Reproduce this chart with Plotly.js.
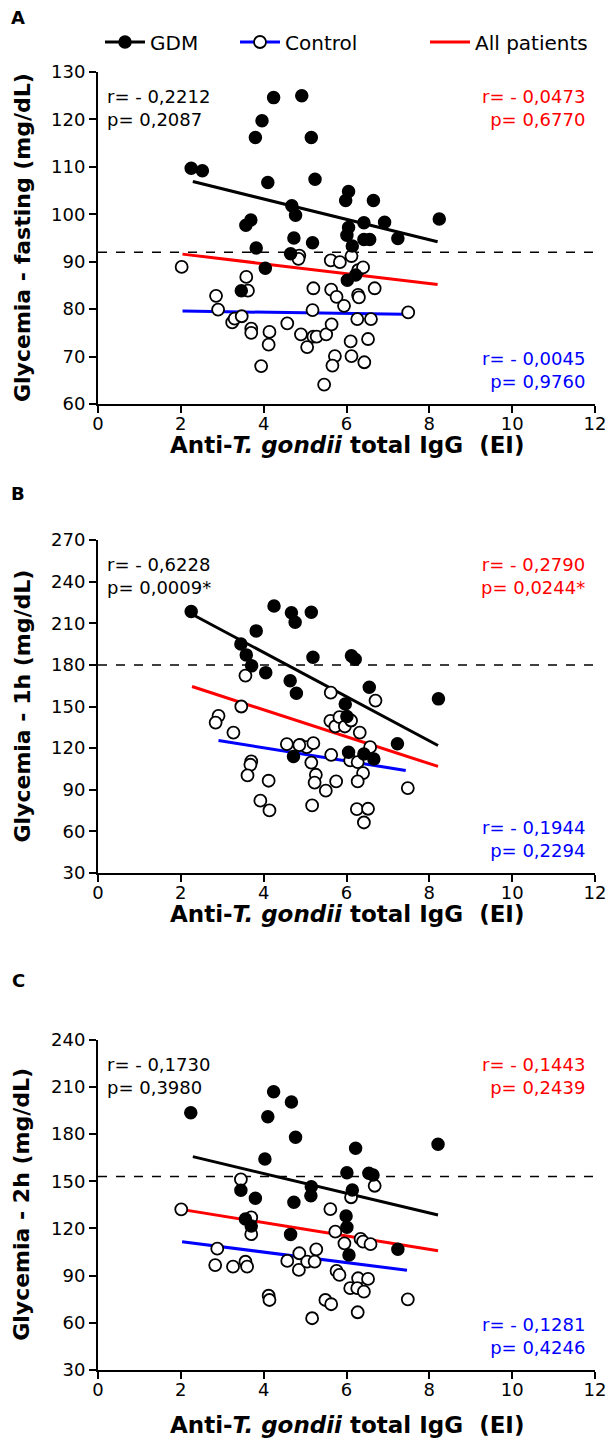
<!DOCTYPE html>
<html>
<head>
<meta charset="utf-8">
<script src="https://cdn.plot.ly/plotly-3.0.1.min.js"></script>
<style>
html,body{margin:0;padding:0;background:#fff;}
#chart{width:611px;height:1441px;}
</style>
</head>
<body>
<div id="chart"></div>
<script>
// ---------------- DATA ----------------
const panelLetters = ["A", "B", "C"];
const yTitles = ["Glycemia - fasting (mg/dL)", "Glycemia - 1h (mg/dL)", "Glycemia - 2h (mg/dL)"];
const xTitle = "Anti-<i>T. gondii</i> total IgG&nbsp; (EI)";
const legendNames = ["GDM", "Control", "All patients"];
const xTicks = [0, 2, 4, 6, 8, 10, 12];
const yTicksA = [60, 70, 80, 90, 100, 110, 120, 130];
const yTicksB = [30, 60, 90, 120, 150, 180, 210, 240, 270];
const yTicksC = [30, 60, 90, 120, 150, 180, 210, 240];
const thresholds = [92, 180, 153];

// Panel A – fasting
const A_gdm_x = [2.25,2.52,4.24,4.92,3.96,3.80,5.15,4.10,5.24,4.68,4.77,3.69,3.57,4.73,5.18,3.82,4.65,6.05,5.98,6.65,8.24,6.42,6.92,6.05,6.01,6.42,6.56,7.24,6.14,6.02,6.22,4.04,3.46];
const A_gdm_y = [109.7,109.2,124.6,125.0,119.7,116.2,116.2,106.7,107.4,101.8,99.8,98.8,97.7,95.0,94.0,92.9,91.7,104.8,102.9,102.9,99.0,98.2,98.3,97.2,95.6,94.7,94.7,94.9,93.3,86.1,87.2,88.6,83.9];
const A_ctl_x = [2.02,2.85,2.90,3.58,3.62,3.24,3.30,3.47,3.70,3.70,4.14,4.12,3.94,4.57,4.86,4.84,4.90,5.05,5.20,5.18,5.20,5.28,5.51,5.46,5.62,5.84,5.63,5.76,5.94,5.64,5.72,5.66,6.12,6.28,6.40,6.28,6.30,6.68,6.26,6.59,7.49,6.10,6.52,6.12,6.43];
const A_ctl_y = [88.9,82.8,79.9,86.8,83.9,77.2,78.0,78.5,75.9,75.0,75.2,72.5,68.0,77.0,91.3,90.6,74.7,72.0,84.4,79.8,74.2,74.2,74.7,64.1,90.3,89.9,84.1,82.6,80.7,76.8,70.1,68.1,91.2,88.2,88.8,83.0,82.5,84.4,77.9,77.9,79.3,73.2,73.7,70.1,68.8];
const A_fit_gdm_x = [2.29, 8.20], A_fit_gdm_y = [106.9, 94.2];
const A_fit_ctl_x = [2.04, 7.39], A_fit_ctl_y = [79.6, 78.9];
const A_fit_all_x = [2.04, 8.20], A_fit_all_y = [91.6, 85.2];

// Panel B – 1h
const B_gdm_x = [2.25,4.25,4.67,4.76,5.15,3.82,3.45,3.58,3.71,4.05,5.19,4.64,4.79,5.97,6.12,6.21,6.55,8.22,6.01,7.23,6.05,6.42,6.66,4.72];
const B_gdm_y = [218.4,222.5,217.6,210.7,217.9,204.5,195.1,187.2,179.3,174.4,185.5,168.5,159.6,151.8,186.5,184.1,163.9,155.5,142.8,123.1,117.1,115.7,112.1,114.0];
const B_ctl_x = [3.56,3.46,2.91,2.84,3.27,5.62,6.70,5.61,5.73,5.83,5.96,6.11,6.32,6.57,4.88,5.04,5.20,5.63,6.09,6.27,5.15,5.26,5.23,6.40,6.27,5.75,5.50,7.48,5.17,6.25,6.52,6.42,4.56,4.86,3.70,3.68,3.61,4.12,3.92,4.14];
const B_ctl_y = [172.3,150.0,143.3,138.4,131.2,160.0,154.3,139.7,135.6,142.3,135.6,139.9,131.2,120.7,122.4,120.7,123.6,115.2,111.1,109.9,109.6,100.8,95.2,102.0,96.0,96.0,89.3,91.2,78.7,76.1,76.3,66.4,122.9,122.2,110.4,108.0,100.3,96.5,82.1,75.1];
const B_fit_gdm_x = [2.27, 8.21], B_fit_gdm_y = [216.5, 121.9];
const B_fit_ctl_x = [2.91, 7.43], B_fit_ctl_y = [125.5, 103.9];
const B_fit_all_x = [2.27, 8.21], B_fit_all_y = [164.4, 106.8];

// Panel C – 2h
const C_gdm_x = [2.24,4.24,4.67,4.10,4.77,4.03,3.45,3.80,4.73,5.15,5.14,6.01,5.99,6.22,8.21,6.54,6.64,6.14,3.56,3.70,4.65,6.01,6.06,7.24];
const C_gdm_y = [193.5,206.9,200.3,191.0,177.9,164.1,144.2,139.1,136.6,146.5,140.8,155.4,127.9,170.9,173.5,155.0,153.9,144.4,126.0,121.5,116.2,120.7,103.1,106.7];
const C_ctl_x = [2.01,3.45,5.61,3.70,3.70,2.88,2.83,3.26,3.56,3.60,4.12,4.14,4.57,4.86,4.85,5.05,5.27,5.23,5.17,5.49,5.63,5.73,5.95,5.76,5.83,6.09,6.68,6.11,6.34,6.40,6.58,6.28,6.52,6.26,6.42,6.27,7.48];
const C_ctl_y = [132.1,151.2,132.3,127.0,116.3,107.1,96.7,95.7,98.8,95.7,77.2,74.5,99.3,104.2,93.6,98.9,106.7,98.9,62.9,74.5,71.8,117.9,110.5,93.0,90.4,82.0,147.1,139.8,113.3,111.6,110.0,88.3,87.9,82.0,79.8,66.7,74.9];
const C_fit_gdm_x = [2.29, 8.21], C_fit_gdm_y = [165.6, 128.5];
const C_fit_ctl_x = [2.03, 7.46], C_fit_ctl_y = [111.5, 93.4];
const C_fit_all_x = [2.01, 8.21], C_fit_all_y = [132.1, 105.8];

// correlation statistics
const gdmStats = [["r= - 0,2212", "p= 0,2087"], ["r= - 0,6228", "p= 0,0009*"], ["r= - 0,1730", "p= 0,3980"]];
const allStats = [["r= - 0,0473", "p= 0,6770"], ["r= - 0,2790", "p= 0,0244*"], ["r= - 0,1443", "p= 0,2439"]];
const ctlStats = [["r= - 0,0045", "p= 0,9760"], ["r= - 0,1944", "p= 0,2294"], ["r= - 0,1281", "p= 0,4246"]];

// ---------------- STYLE / LAYOUT ----------------
const W = 611, H = 1441, L = 98, R = 16;
const PW = W - L - R;
const FONT = "DejaVu Sans, Liberation Sans, Arial, sans-serif";
const BLACK = "#000000", RED = "#ff0000", BLUE = "#0000ff";
// pixel top/bottom of each plot area
const panelPx = [[72, 404], [540, 873], [1039.6, 1370]];
const xTitlePx = [445, 914, 1425];
const letterPx = [18, 493, 980];

const panels = [
  {gx: A_gdm_x, gy: A_gdm_y, cx: A_ctl_x, cy: A_ctl_y,
   fg: [A_fit_gdm_x, A_fit_gdm_y], fc: [A_fit_ctl_x, A_fit_ctl_y], fa: [A_fit_all_x, A_fit_all_y],
   yr: [60, 130], yt: yTicksA},
  {gx: B_gdm_x, gy: B_gdm_y, cx: B_ctl_x, cy: B_ctl_y,
   fg: [B_fit_gdm_x, B_fit_gdm_y], fc: [B_fit_ctl_x, B_fit_ctl_y], fa: [B_fit_all_x, B_fit_all_y],
   yr: [30, 270], yt: yTicksB},
  {gx: C_gdm_x, gy: C_gdm_y, cx: C_ctl_x, cy: C_ctl_y,
   fg: [C_fit_gdm_x, C_fit_gdm_y], fc: [C_fit_ctl_x, C_fit_ctl_y], fa: [C_fit_all_x, C_fit_all_y],
   yr: [30, 240], yt: yTicksC}
];

const traces = [];
const layout = {
  width: W, height: H,
  margin: {l: L, r: R, t: 0, b: 0, pad: 0},
  paper_bgcolor: "#fff", plot_bgcolor: "rgba(0,0,0,0)",
  font: {family: FONT, color: BLACK, size: 18},
  showlegend: true,
  annotations: [], shapes: []
};

const markerGdm = {symbol: "circle", size: 12, color: BLACK, line: {color: BLACK, width: 1.5}};
const markerCtl = {symbol: "circle", size: 12, color: "#ffffff", line: {color: BLACK, width: 1.8}};

panels.forEach((p, i) => {
  const n = i === 0 ? "" : String(i + 1);
  const xa = "x" + n, ya = "y" + n;
  const [top, bot] = panelPx[i];
  layout["xaxis" + n] = {
    domain: [0, 1], anchor: ya, range: [0, 12], tickvals: xTicks, ticktext: xTicks.map(String),
    showline: true, linecolor: BLACK, linewidth: 2, ticks: "outside", ticklen: 7, tickwidth: 2, tickcolor: BLACK,
    ticklabelstandoff: -5,
    showgrid: false, zeroline: false, tickfont: {family: FONT, size: 18, color: BLACK}, fixedrange: true
  };
  layout["yaxis" + n] = {
    domain: [1 - bot / H, 1 - top / H], anchor: xa, range: p.yr, tickvals: p.yt, ticktext: p.yt.map(String),
    showline: true, linecolor: BLACK, linewidth: 2, ticks: "outside", ticklen: 7, tickwidth: 2, tickcolor: BLACK,
    showgrid: false, zeroline: false, tickfont: {family: FONT, size: 18, color: BLACK}, fixedrange: true
  };
  // regression lines
  traces.push({type: "scatter", mode: "lines", x: p.fa[0], y: p.fa[1], xaxis: xa, yaxis: ya,
    line: {color: RED, width: 3}, showlegend: false, hoverinfo: "skip"});
  traces.push({type: "scatter", mode: "lines", x: p.fc[0], y: p.fc[1], xaxis: xa, yaxis: ya,
    line: {color: BLUE, width: 3}, showlegend: false, hoverinfo: "skip"});
  traces.push({type: "scatter", mode: "lines", x: p.fg[0], y: p.fg[1], xaxis: xa, yaxis: ya,
    line: {color: BLACK, width: 3}, showlegend: false, hoverinfo: "skip"});
  // points
  traces.push({type: "scatter", mode: "markers", x: p.cx, y: p.cy, xaxis: xa, yaxis: ya,
    marker: markerCtl, showlegend: false, cliponaxis: false});
  traces.push({type: "scatter", mode: "markers", x: p.gx, y: p.gy, xaxis: xa, yaxis: ya,
    marker: markerGdm, showlegend: false, cliponaxis: false});
  // threshold dashed line
  layout.shapes.push({type: "line", xref: xa, yref: ya, x0: 0, x1: 12, y0: thresholds[i], y1: thresholds[i],
    line: {color: BLACK, width: 1.5, dash: "dash"}, layer: "below"});
  const xd = xa + " domain", yd = ya + " domain";
  const h = bot - top;
  // statistics
  layout.annotations.push({xref: xd, yref: yd, x: 0.014, y: 1 - 12 / h, xanchor: "left", yanchor: "top",
    align: "left", showarrow: false, text: gdmStats[i].join("<br>"), font: {family: FONT, size: 18, color: BLACK}});
  layout.annotations.push({xref: xd, yref: yd, x: 0.984, y: 1 - 12 / h, xanchor: "right", yanchor: "top",
    align: "right", showarrow: false, text: allStats[i].join("<br>"), font: {family: FONT, size: 18, color: RED}});
  layout.annotations.push({xref: xd, yref: yd, x: 0.984, y: 10 / h, xanchor: "right", yanchor: "bottom",
    align: "right", showarrow: false, text: ctlStats[i].join("<br>"), font: {family: FONT, size: 18, color: BLUE}});
  // axis titles
  layout.annotations.push({xref: "paper", yref: yd, x: (22 - L) / PW, y: 0.5, xanchor: "center", yanchor: "middle",
    textangle: -90, showarrow: false, text: "<b>" + yTitles[i] + "</b>", font: {family: FONT, size: 22, color: BLACK}});
  layout.annotations.push({xref: xd, yref: "paper", x: 0.5, y: 1 - xTitlePx[i] / H, xanchor: "center", yanchor: "middle",
    showarrow: false, text: "<b>" + xTitle + "</b>", font: {family: FONT, size: 23, color: BLACK}});
  // panel letter
  layout.annotations.push({xref: "paper", yref: "paper", x: (18 - L) / PW, y: 1 - letterPx[i] / H,
    xanchor: "center", yanchor: "middle", showarrow: false, text: "<b>" + panelLetters[i] + "</b>",
    font: {family: FONT, size: 18, color: BLACK}});
});

// legend (three independent legends for placement)
const legStyles = [
  {mode: "lines+markers", line: {color: BLACK, width: 3}, marker: markerGdm},
  {mode: "lines+markers", line: {color: BLUE, width: 3}, marker: markerCtl},
  {mode: "lines", line: {color: RED, width: 3}}
];
const legIds = ["legend", "legend2", "legend3"];
const legX = [100, 235, 425];
legendNames.forEach((name, k) => {
  traces.push(Object.assign({type: "scatter", x: [null], y: [null], name: name, legend: legIds[k],
    showlegend: true, hoverinfo: "skip"}, legStyles[k]));
  layout[legIds[k]] = {x: (legX[k] - L) / PW, xanchor: "left", y: 1 - 42 / H, yanchor: "middle",
    orientation: "h", bgcolor: "rgba(0,0,0,0)", borderwidth: 0, itemwidth: 40,
    font: {family: FONT, size: 20, color: BLACK}};
});

Plotly.newPlot("chart", traces, layout, {staticPlot: true, displayModeBar: false});
</script>
</body>
</html>
